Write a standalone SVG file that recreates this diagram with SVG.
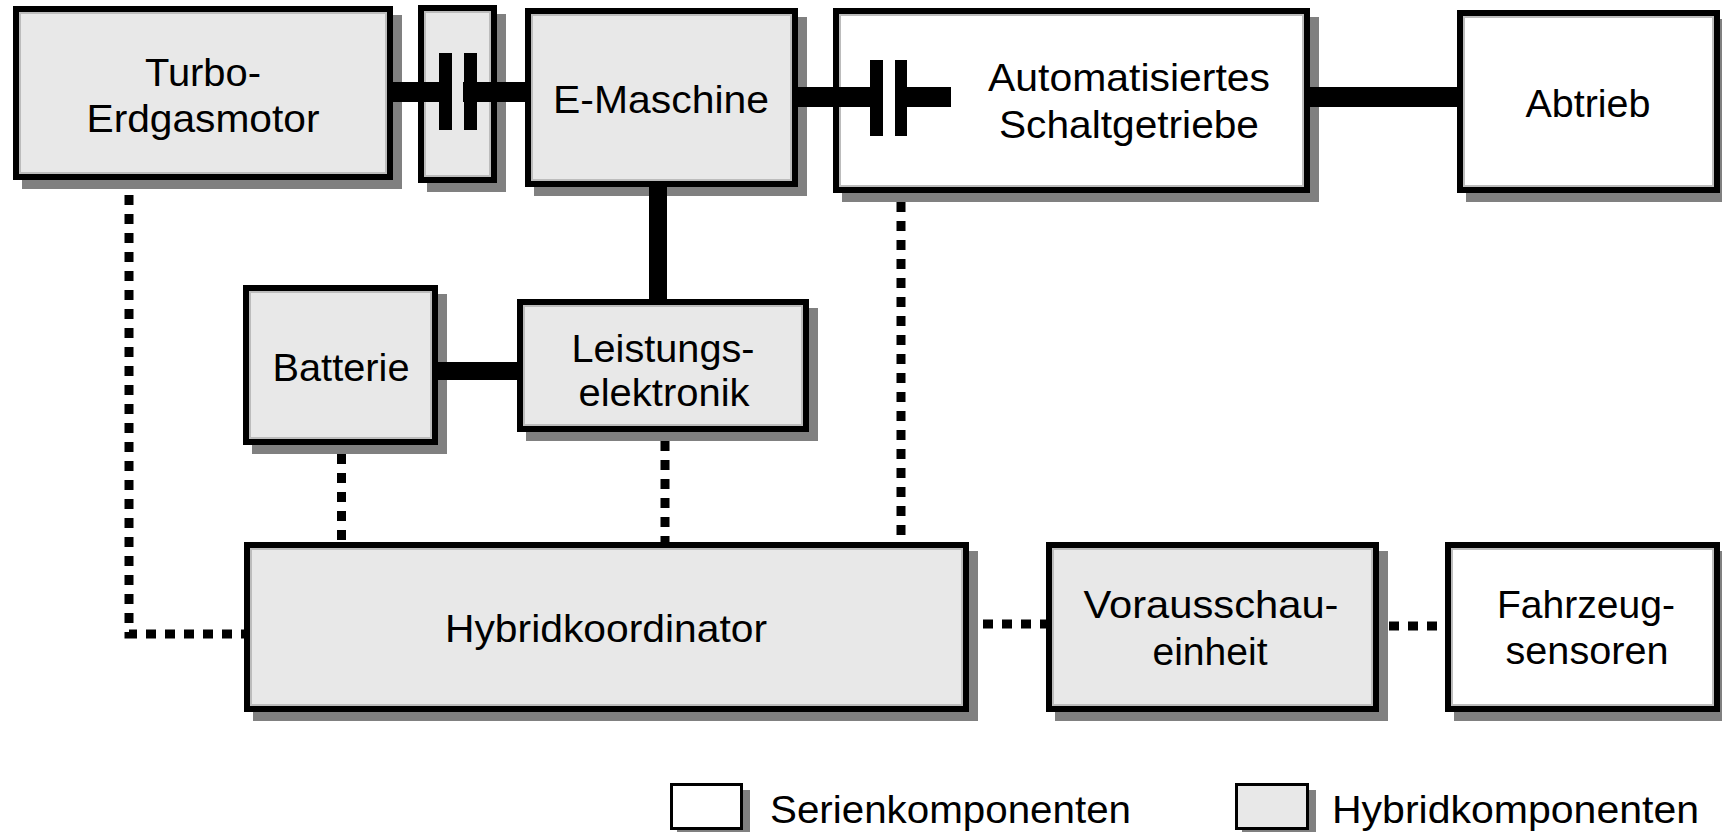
<svg xmlns="http://www.w3.org/2000/svg" width="1722" height="832" viewBox="0 0 1722 832">
<style>
.sh{fill:#808080}
.bx{stroke:#000;stroke-width:6}
.in{fill:none;stroke:#bcbcbc;stroke-width:2}
.g{fill:#e8e8e8}
.w{fill:#ffffff}
.lg{stroke:#000;stroke-width:3}
text{font-family:"Liberation Sans",Arial,sans-serif;font-size:39px;fill:#000;text-anchor:middle}
.dot{fill:none;stroke:#000;stroke-width:9;stroke-dasharray:10 9}
.k{fill:#000}
</style>
<rect width="1722" height="832" fill="#ffffff"/>

<g id="turbo">
<rect class="sh" x="22" y="15" width="380" height="174"/>
<rect class="bx g" x="16" y="9" width="374" height="168"/>
<rect class="in" x="20" y="13" width="366" height="160"/>
<text x="203" y="86" textLength="116" lengthAdjust="spacingAndGlyphs">Turbo-</text>
<text x="203" y="132" textLength="233" lengthAdjust="spacingAndGlyphs">Erdgasmotor</text>
</g>

<g id="kupplung1">
<rect class="sh" x="427" y="14" width="79" height="178"/>
<rect class="bx g" x="421" y="8" width="73" height="172"/>
<rect class="in" x="425" y="12" width="65" height="164"/>
</g>

<g id="emaschine">
<rect class="sh" x="534" y="17" width="273" height="179"/>
<rect class="bx g" x="528" y="11" width="267" height="173"/>
<rect class="in" x="532" y="15" width="259" height="165"/>
<text x="661" y="113" textLength="216" lengthAdjust="spacingAndGlyphs">E-Maschine</text>
</g>

<g id="getriebe">
<rect class="sh" x="842" y="17" width="477" height="185"/>
<rect class="bx w" x="836" y="11" width="471" height="179"/>
<rect class="in" x="840" y="15" width="463" height="171"/>
<text x="1129" y="91" textLength="282" lengthAdjust="spacingAndGlyphs">Automatisiertes</text>
<text x="1129" y="138" textLength="260" lengthAdjust="spacingAndGlyphs">Schaltgetriebe</text>
</g>

<g id="abtrieb">
<rect class="sh" x="1466" y="19" width="260" height="183"/>
<rect class="bx w" x="1460" y="13" width="257" height="177"/>
<rect class="in" x="1464" y="17" width="249" height="169"/>
<text x="1588" y="117" textLength="125" lengthAdjust="spacingAndGlyphs">Abtrieb</text>
</g>

<g id="batterie">
<rect class="sh" x="252" y="294" width="195" height="160"/>
<rect class="bx g" x="246" y="288" width="189" height="154"/>
<rect class="in" x="250" y="292" width="181" height="146"/>
<text x="341" y="381" textLength="137" lengthAdjust="spacingAndGlyphs">Batterie</text>
</g>

<g id="leistungselektronik">
<rect class="sh" x="526" y="308" width="292" height="133"/>
<rect class="bx g" x="520" y="302" width="286" height="127"/>
<rect class="in" x="524" y="306" width="278" height="119"/>
<text x="663" y="362" textLength="183" lengthAdjust="spacingAndGlyphs">Leistungs-</text>
<text x="664" y="406" textLength="171" lengthAdjust="spacingAndGlyphs">elektronik</text>
</g>

<g id="hybridkoordinator">
<rect class="sh" x="253" y="551" width="725" height="170"/>
<rect class="bx g" x="247" y="545" width="719" height="164"/>
<rect class="in" x="251" y="549" width="711" height="156"/>
<text x="606" y="642" textLength="322" lengthAdjust="spacingAndGlyphs">Hybridkoordinator</text>
</g>

<g id="vorausschau">
<rect class="sh" x="1055" y="551" width="333" height="170"/>
<rect class="bx g" x="1049" y="545" width="327" height="164"/>
<rect class="in" x="1053" y="549" width="319" height="156"/>
<text x="1211" y="618" textLength="255" lengthAdjust="spacingAndGlyphs">Vorausschau-</text>
<text x="1210" y="665" textLength="115" lengthAdjust="spacingAndGlyphs">einheit</text>
</g>

<g id="fahrzeugsensoren">
<rect class="sh" x="1454" y="551" width="272" height="170"/>
<rect class="bx w" x="1448" y="545" width="269" height="164"/>
<rect class="in" x="1452" y="549" width="261" height="156"/>
<text x="1586" y="618" textLength="178" lengthAdjust="spacingAndGlyphs">Fahrzeug-</text>
<text x="1587" y="664" textLength="163" lengthAdjust="spacingAndGlyphs">sensoren</text>
</g>

<g id="connectors">
<!-- mechanical shafts -->
<rect class="k" x="393" y="82" width="59" height="20"/>
<rect class="k" x="463" y="82" width="62" height="20"/>
<rect class="k" x="439" y="53" width="13" height="77"/>
<rect class="k" x="464" y="53" width="13" height="77"/>
<rect class="k" x="798" y="87" width="85" height="20"/>
<rect class="k" x="895" y="87" width="56" height="20"/>
<rect class="k" x="870" y="60" width="13" height="76"/>
<rect class="k" x="895" y="60" width="12" height="76"/>
<rect class="k" x="1310" y="87" width="147" height="20"/>
<rect class="k" x="649" y="187" width="18" height="112"/>
<rect class="k" x="438" y="362" width="79" height="18"/>
<!-- signal lines -->
<polyline class="dot" points="129,195 129,634 244,634"/>
<line class="dot" x1="341.5" y1="454" x2="341.5" y2="542"/>
<line class="dot" x1="665" y1="441" x2="665" y2="542"/>
<line class="dot" x1="901" y1="202" x2="901" y2="542"/>
<line class="dot" x1="983" y1="624" x2="1046" y2="624"/>
<line class="dot" x1="1389" y1="626" x2="1445" y2="626"/>
</g>

<g id="legende">
<rect class="sh" x="677" y="790" width="73" height="47"/>
<rect class="lg w" x="671.5" y="784.5" width="70" height="44"/>
<text x="770" y="823" style="text-anchor:start" textLength="361" lengthAdjust="spacingAndGlyphs">Serienkomponenten</text>
<rect class="sh" x="1242" y="790" width="74" height="47"/>
<rect class="lg g" x="1236.5" y="784.5" width="71" height="44"/>
<text x="1332" y="823" style="text-anchor:start" textLength="367" lengthAdjust="spacingAndGlyphs">Hybridkomponenten</text>
</g>
</svg>
